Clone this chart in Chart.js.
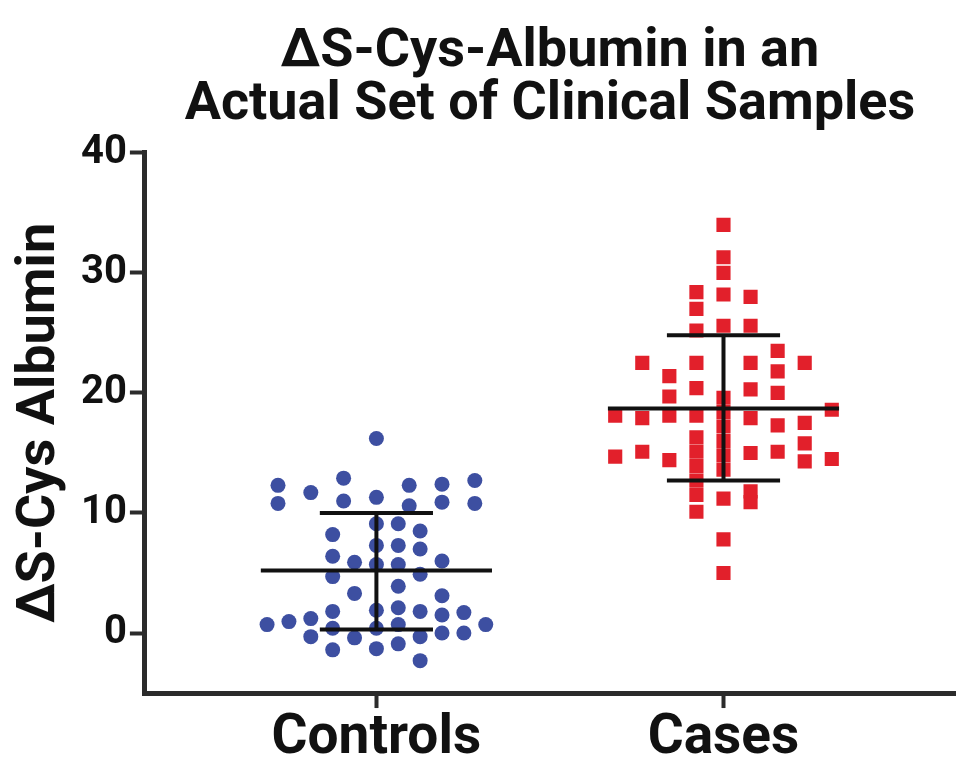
<!DOCTYPE html>
<html>
<head>
<meta charset="utf-8">
<title>S-Cys-Albumin</title>
<script src="https://cdn.jsdelivr.net/npm/chart.js@4.4.1/dist/chart.umd.min.js"></script>
<style>
  html, body { margin: 0; padding: 0; background: #fff; }
</style>
</head>
<body>
<canvas id="dotChart" width="958" height="771"></canvas>
<script>
// groups on the x axis and y ticks
const groups = ['Controls', 'Cases'];
const yTicks = [0, 10, 20, 30, 40];

// controls: column slot of each dot (jitter) and its value
const controlsCol = [0, -4.5, -4.5, -3, -1.5, -1.5, 0, 1.5, 1.5, 3, 3, 4.5, 4.5,
  -5, -4, -3, -3, -2, -2, -2, -2, -2, -2, -1, -1, -1,
  0, 0, 0, 0, 0, 0, 1, 1, 1, 1, 1, 1, 1, 2, 2, 2, 2, 2, 2,
  3, 3, 3, 3, 4, 4, 5];
const controlsVal = [16.2, 12.3, 10.8, 11.7, 12.9, 11.0, 11.3, 12.3, 10.6, 12.4, 10.9, 12.7, 10.8,
  0.7, 0.95, 1.2, -0.3, 8.2, 6.4, 4.7, 1.8, 0.4, -1.4, 5.9, 3.3, -0.4,
  9.1, 7.3, 5.7, 1.9, 0.4, -1.3, 9.1, 7.3, 5.7, 3.9, 2.1, 0.7, -0.9, 8.5, 7.0, 4.9, 1.8, -0.3, -2.3,
  6.0, 3.1, 1.5, 0.0, 1.7, 0.0, 0.7];

// cases
const casesCol = [-4, -4, -3, -3, -3, -2, -2, -2, -2,
  -1, -1, -1, -1, -1, -1, -1, -1, -1, -1, -1, -1,
  0, 0, 0, 0, 0, 0, 0, 0, 0, 0, 0, 0, 0, 0,
  1, 1, 1, 1, 1, 1, 1, 1,
  2, 2, 2, 2, 2, 3, 3, 3, 3, 4, 4];
const casesVal = [18.1, 14.7, 22.5, 17.9, 15.1, 21.4, 19.7, 18.1, 14.4,
  28.4, 27.0, 25.2, 22.5, 20.4, 18.1, 16.3, 15.1, 13.9, 12.7, 11.5, 10.1,
  34.0, 31.3, 30.0, 28.2, 25.6, 19.6, 18.4, 17.2, 16.0, 14.8, 13.6, 11.2, 7.8, 5.0,
  28.0, 25.6, 22.5, 20.3, 17.9, 15.0, 11.8, 10.9,
  23.5, 21.8, 20.0, 17.3, 15.1, 22.5, 17.5, 15.8, 14.3, 18.6, 14.5];

// mean and mean +/- SD
const meanVal = [5.2, 18.7];
const sdLow = [0.3, 12.7];
const sdHigh = [10.0, 24.8];

const colStep = [0.063, 0.078];
const toPoints = (cols, vals, g) => vals.map((v, i) => ({ x: g + 1 + cols[i] * colStep[g], y: v }));

// black mean line + SD whiskers drawn over the dots
const meanSdBars = {
  id: 'meanSdBars',
  afterDatasetsDraw(chart) {
    const { ctx, scales: { x, y } } = chart;
    ctx.save();
    ctx.strokeStyle = '#111';
    ctx.lineWidth = 4;
    const hline = (cx, v, half) => {
      ctx.beginPath();
      ctx.moveTo(x.getPixelForValue(cx - half), y.getPixelForValue(v));
      ctx.lineTo(x.getPixelForValue(cx + half), y.getPixelForValue(v));
      ctx.stroke();
    };
    meanVal.forEach((m, i) => {
      const cx = i + 1;
      hline(cx, m, 0.333);
      hline(cx, sdLow[i], 0.163);
      hline(cx, sdHigh[i], 0.163);
      ctx.beginPath();
      ctx.moveTo(x.getPixelForValue(cx), y.getPixelForValue(sdLow[i]));
      ctx.lineTo(x.getPixelForValue(cx), y.getPixelForValue(sdHigh[i]));
      ctx.stroke();
    });
    ctx.restore();
  }
};

const font = 'Roboto, Liberation Sans, Arial, sans-serif';
const axisLine = '#2b2b2b';

new Chart(document.getElementById('dotChart'), {
  type: 'scatter',
  data: {
    datasets: [{
      label: 'Controls',
      data: toPoints(controlsCol, controlsVal, 0),
      pointStyle: 'circle',
      pointRadius: 7.5,
      backgroundColor: '#3d4fa1',
      borderWidth: 0
    }, {
      label: 'Cases',
      data: toPoints(casesCol, casesVal, 1),
      pointStyle: 'rect',
      pointRadius: 10,
      backgroundColor: '#e2202b',
      borderWidth: 0
    }]
  },
  options: {
    responsive: false,
    animation: false,
    layout: { autoPadding: false, padding: { top: 26, right: 3, left: 0, bottom: 0 } },
    plugins: {
      legend: { display: false },
      tooltip: { enabled: false },
      title: {
        display: true,
        fullSize: false,
        text: ['\u0394S-Cys-Albumin in an', 'Actual Set of Clinical Samples'],
        color: '#111',
        font: { family: font, size: 54, weight: 'bold', lineHeight: 0.98 },
        padding: { top: 0, bottom: 21 }
      }
    },
    scales: {
      x: {
        type: 'linear',
        min: 0.333,
        max: 2.667,
        afterBuildTicks: s => { s.ticks = groups.map((g, i) => ({ value: i + 1 })); },
        ticks: {
          callback: v => groups[Math.round(v) - 1],
          color: '#111',
          font: { family: font, size: 55, weight: 'bold', lineHeight: 0.49 },
          padding: 18
        },
        grid: { drawOnChartArea: false, drawTicks: true, tickLength: 15, tickWidth: 4, tickColor: axisLine },
        border: { color: axisLine, width: 5 }
      },
      y: {
        min: -5,
        max: 40,
        afterBuildTicks: s => { s.ticks = yTicks.map(v => ({ value: v })); },
        ticks: {
          color: '#111',
          font: { family: font, size: 40, weight: 'bold' },
          padding: 3
        },
        grid: { drawOnChartArea: false, drawTicks: true, tickLength: 15, tickWidth: 4, tickColor: axisLine },
        border: { color: axisLine, width: 5 },
        title: {
          display: true,
          text: '\u0394S-Cys Albumin',
          color: '#111',
          font: { family: font, size: 54, weight: 'bold', lineHeight: 1.0 },
          padding: { top: 13, bottom: 11 }
        }
      }
    }
  },
  plugins: [meanSdBars]
});
</script>
</body>
</html>
